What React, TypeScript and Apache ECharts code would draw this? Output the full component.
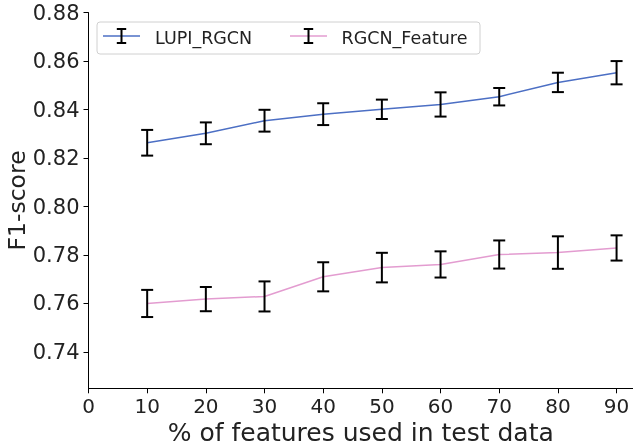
import React, { useEffect, useRef } from "react";
import * as echarts from "echarts";

const xValues = [10, 20, 30, 40, 50, 60, 70, 80, 90];
const seriesNames = ["LUPI_RGCN", "RGCN_Feature"];
const lupiMean = [0.8263, 0.8302, 0.8354, 0.8381, 0.8401, 0.8421, 0.8453, 0.8512, 0.8552];
const lupiErr = [0.0053, 0.0045, 0.0045, 0.0045, 0.004, 0.005, 0.0036, 0.004, 0.0048];
const featMean = [0.76, 0.7618, 0.7629, 0.771, 0.7748, 0.7761, 0.7802, 0.781, 0.7829];
const featErr = [0.0056, 0.005, 0.0062, 0.006, 0.0061, 0.0054, 0.0058, 0.0067, 0.0052];
const xTicks = [0, 10, 20, 30, 40, 50, 60, 70, 80, 90];
const yTicks = [0.74, 0.76, 0.78, 0.8, 0.82, 0.84, 0.86, 0.88];

const FONT = "DejaVu Sans";
const BLUE = "#4c6fc4";
const PINK = "#e39cd0";

export default function App() {
  const ref = useRef<HTMLDivElement>(null);
  useEffect(() => {
    if (!ref.current) return;
    const chart = echarts.init(ref.current, undefined, { renderer: "svg" });

    const errSeries = (mean: number[], err: number[], name: string) => ({
      type: "custom",
      name: name + "_err",
      data: xValues.map((x, i) => [x, mean[i] - err[i], mean[i] + err[i]]),
      z: 5,
      silent: true,
      renderItem: (params: any, api: any) => {
        const lo = api.coord([api.value(0), api.value(1)]);
        const hi = api.coord([api.value(0), api.value(2)]);
        const w = 6;
        const st = { stroke: "#000", lineWidth: 2 };
        return {
          type: "group",
          children: [
            { type: "line", shape: { x1: lo[0], y1: lo[1], x2: hi[0], y2: hi[1] }, style: st },
            { type: "line", shape: { x1: lo[0] - w, y1: lo[1], x2: lo[0] + w, y2: lo[1] }, style: st },
            { type: "line", shape: { x1: hi[0] - w, y1: hi[1], x2: hi[0] + w, y2: hi[1] }, style: st },
          ],
        };
      },
    });

    const legendBar = (cx: number, cy: number, color: string) => [
      { type: "line", shape: { x1: cx - 18.5, y1: cy, x2: cx + 18.5, y2: cy }, style: { stroke: color, lineWidth: 1.5 } },
      { type: "line", shape: { x1: cx, y1: cy - 7, x2: cx, y2: cy + 7 }, style: { stroke: "#000", lineWidth: 2 } },
      { type: "line", shape: { x1: cx - 4.7, y1: cy - 7, x2: cx + 4.7, y2: cy - 7 }, style: { stroke: "#000", lineWidth: 2 } },
      { type: "line", shape: { x1: cx - 4.7, y1: cy + 7, x2: cx + 4.7, y2: cy + 7 }, style: { stroke: "#000", lineWidth: 2 } },
    ];

    chart.setOption({
      animation: false,
      textStyle: { fontFamily: FONT },
      grid: { left: 88.5, top: 12.6, right: 0, bottom: 59.7, containLabel: false, outerBoundsMode: "none" },
      xAxis: {
        type: "value",
        min: 0,
        max: 92.8,
        name: "% of features used in test data",
        nameLocation: "middle",
        nameGap: 32,
        nameMoveOverlap: false,
        nameTextStyle: { fontSize: 25, color: "#222", verticalAlign: "top", fontFamily: FONT },
        axisLine: { lineStyle: { color: "#000", width: 1 } },
        axisTick: { show: true, inside: false, length: 5, lineStyle: { color: "#000" }, customValues: xTicks },
        axisLabel: { fontSize: 20, color: "#222", margin: 8, customValues: xTicks, fontFamily: FONT },
        splitLine: { show: false },
      },
      yAxis: {
        type: "value",
        min: 0.725,
        max: 0.88,
        name: "F1-score",
        nameLocation: "middle",
        nameGap: 60,
        nameMoveOverlap: false,
        nameTextStyle: { fontSize: 23.5, color: "#222", fontFamily: FONT },
        axisLine: { show: true, lineStyle: { color: "#000", width: 1 } },
        axisTick: { show: true, inside: false, length: 5, lineStyle: { color: "#000" }, customValues: yTicks },
        axisLabel: {
          fontSize: 21,
          color: "#222",
          margin: 9,
          customValues: yTicks,
          fontFamily: FONT,
          formatter: (v: number) => v.toFixed(2),
        },
        splitLine: { show: false },
      },
      series: [
        {
          type: "line",
          name: seriesNames[0],
          data: xValues.map((x, i) => [x, lupiMean[i]]),
          symbol: "none",
          lineStyle: { color: BLUE, width: 1.5 },
          z: 3,
        },
        {
          type: "line",
          name: seriesNames[1],
          data: xValues.map((x, i) => [x, featMean[i]]),
          symbol: "none",
          lineStyle: { color: PINK, width: 1.5 },
          z: 3,
        },
        errSeries(lupiMean, lupiErr, seriesNames[0]),
        errSeries(featMean, featErr, seriesNames[1]),
      ],
      graphic: [
        {
          type: "rect",
          shape: { x: 97, y: 22, width: 383, height: 32, r: 3 },
          style: { fill: "rgba(255,255,255,0.8)", stroke: "#d0d0d0", lineWidth: 1 },
          z: 10,
        },
        ...legendBar(121.5, 36, BLUE).map((g) => ({ ...g, z: 11 })),
        {
          type: "text",
          x: 155,
          y: 38,
          style: { text: seriesNames[0], fontSize: 17.5, fontFamily: FONT, fill: "#222", verticalAlign: "middle" },
          z: 11,
        },
        ...legendBar(308.5, 36, PINK).map((g) => ({ ...g, z: 11 })),
        {
          type: "text",
          x: 341.5,
          y: 38,
          style: { text: seriesNames[1], fontSize: 17.5, fontFamily: FONT, fill: "#222", verticalAlign: "middle" },
          z: 11,
        },
      ],
    });
    return () => chart.dispose();
  }, []);
  return <div ref={ref} style={{ position: "fixed", left: 0, top: 0, width: 633, height: 448 }} />;
}
